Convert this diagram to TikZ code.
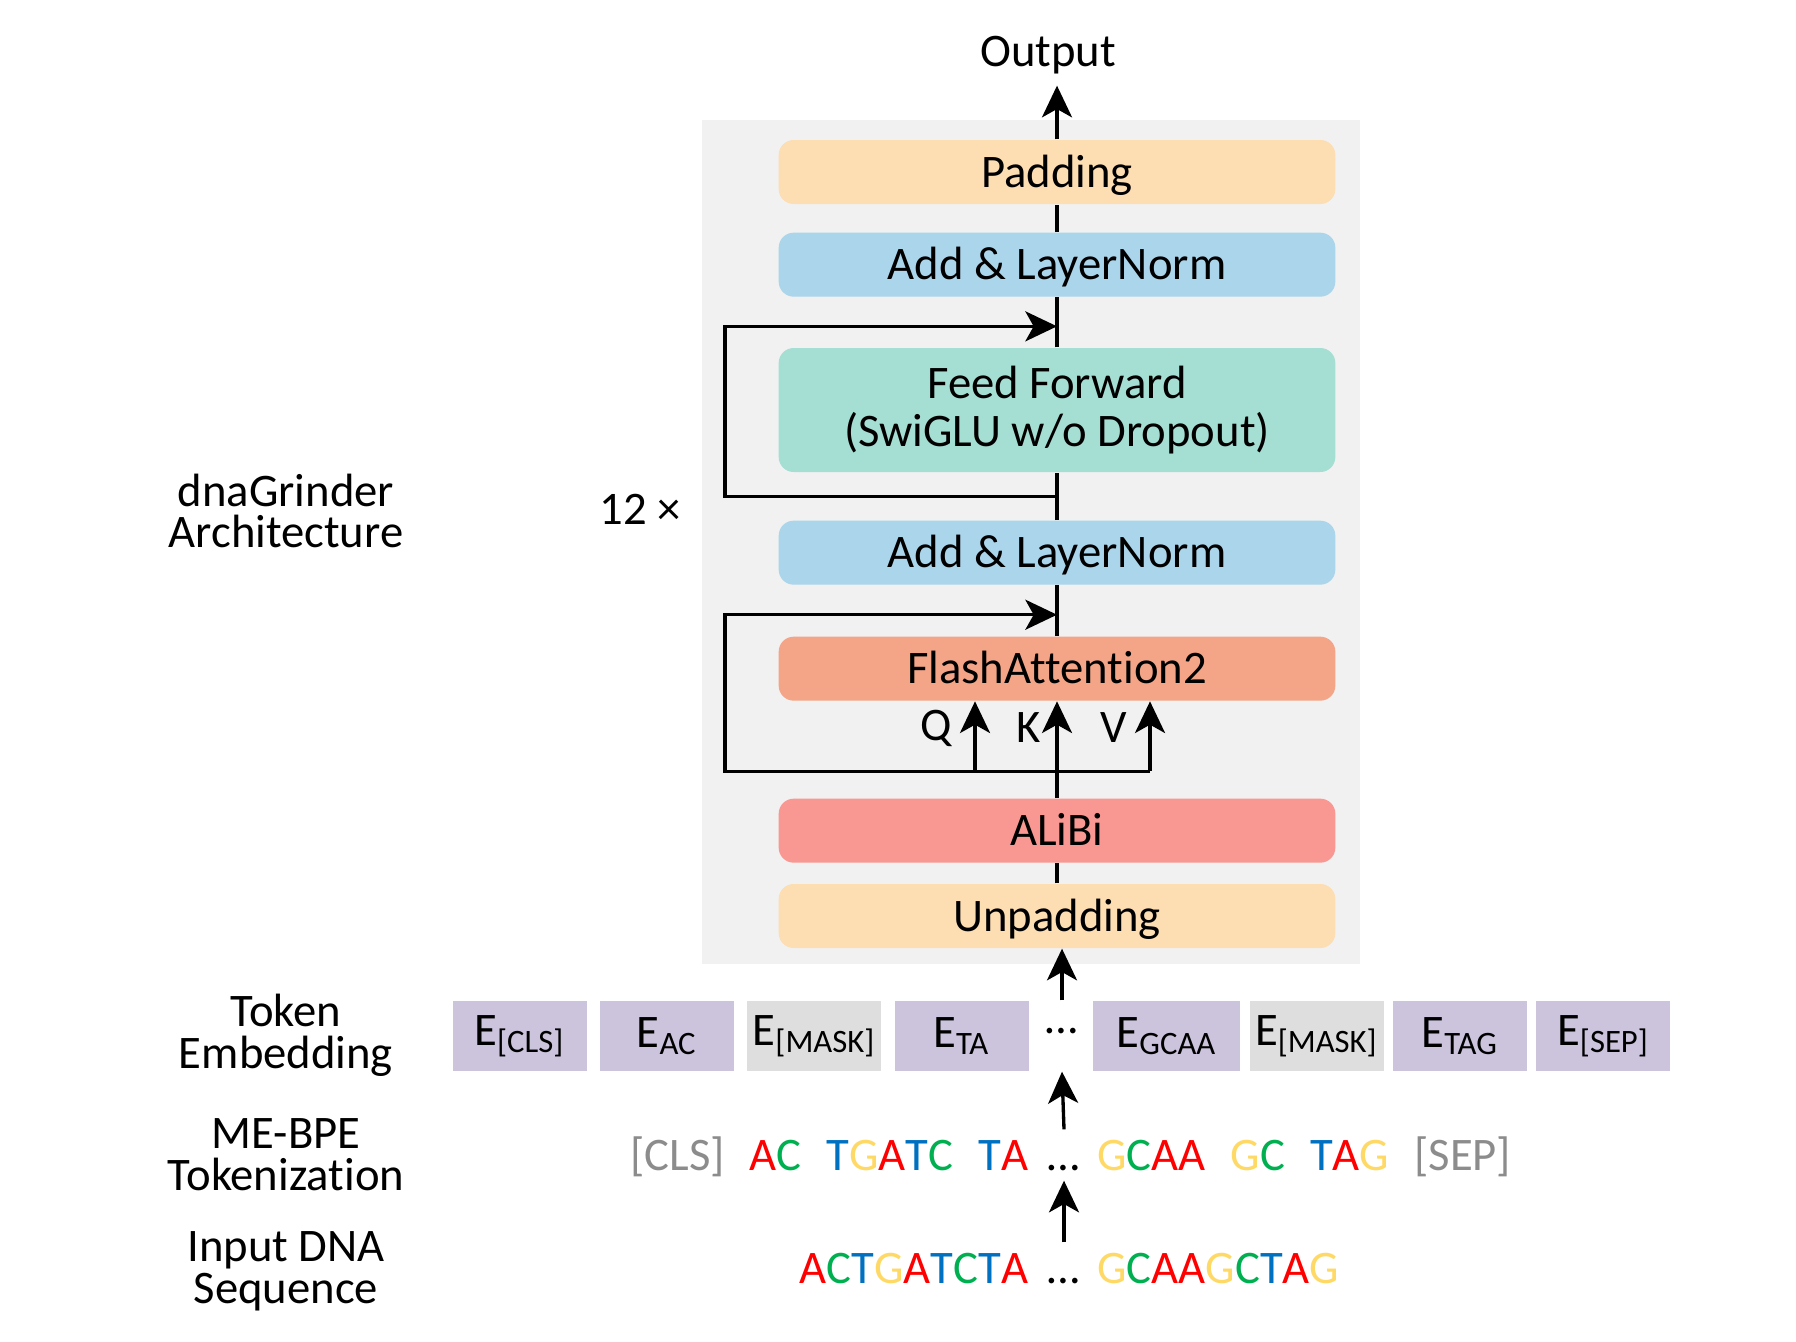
\documentclass[tikz,border=0pt]{standalone}
\usepackage{fontspec}
\setmainfont{Carlito}[Ligatures=NoCommon]
\usetikzlibrary{arrows.meta, positioning}

\definecolor{bggray}{HTML}{F1F1F1}
\definecolor{padcol}{HTML}{FDDDB2}
\definecolor{normcol}{HTML}{AAD5EB}
\definecolor{ffcol}{HTML}{A5DED3}
\definecolor{attcol}{HTML}{F4A587}
\definecolor{alibicol}{HTML}{F99892}
\definecolor{embcol}{HTML}{CCC3DD}
\definecolor{maskcol}{HTML}{DEDEDE}
\definecolor{dnaA}{HTML}{FF0000}
\definecolor{dnaC}{HTML}{00B050}
\definecolor{dnaT}{HTML}{0070C0}
\definecolor{dnaG}{HTML}{FFD966}
\definecolor{spcol}{HTML}{8C8C8C}

\newcommand{\nucA}{\textcolor{dnaA}{A}}
\newcommand{\nucC}{\textcolor{dnaC}{C}}
\newcommand{\nucT}{\textcolor{dnaT}{T}}
\newcommand{\nucG}{\textcolor{dnaG}{G}}
\newcommand{\tsp}{\hspace{7.5pt}}

\begin{document}
\begin{tikzpicture}[x=0.3pt, y=-0.3pt, font=\fontsize{14}{12.5}\selectfont,
  layer/.style={rounded corners=4.5pt, minimum width=167pt, minimum height=19.2pt,
    inner sep=0pt, text height=9pt, text depth=0pt},
  emb/.style={fill=embcol, minimum width=40.2pt, minimum height=21pt, inner sep=0pt},
  mask/.style={emb, fill=maskcol},
  seq/.style={inner xsep=0pt, inner ysep=3pt, text height=9pt, text depth=0pt},
  lbl/.style={align=center},
  line/.style={line width=1pt},
  arr/.style={line, -{Stealth[length=9.5pt, width=9pt, inset=2.5pt]}}]

\useasboundingbox (0,0) rectangle (1796,1341);
\fill[bggray] (702,120) rectangle (1360,964);

% encoder block
\node[layer, fill=padcol] (unpad) at (1057,916) {Unpadding};
\node[layer, fill=alibicol, above=6pt of unpad] (alibi) {ALiBi};
\node[layer, fill=attcol, above=29pt of alibi] (attn) {FlashAttention2};
\node[layer, fill=normcol, above=15.2pt of attn] (norm1) {Add \& LayerNorm};
\node[layer, fill=ffcol, above=14.2pt of norm1, minimum height=37.2pt,
  text height={}, text depth={}, align=center, font=\fontsize{14}{14.5}\selectfont]
  (ff) {Feed Forward\\(SwiGLU w/o Dropout)};
\node[layer, fill=normcol, above=15pt of ff] (norm2) {Add \& LayerNorm};
\node[layer, fill=padcol, above=8.2pt of norm2] (pad) {Padding};
\node (output) at (1048,55) {Output};
\node (reps) at (640,509) {12 ×};

% attention with residual
\draw[line] (unpad.north) -- (alibi.south);
\path (attn.south) ++(0,70) coordinate (kbr);
\path (kbr) ++(-82,0) coordinate (qbr) ++(175,0) coordinate (vbr);
\draw[line] (alibi.north) -- (kbr);
\draw[arr] (qbr) -- (qbr |- attn.south) node[pos=.62, left=3pt] {Q};
\draw[arr] (kbr) -- (attn.south) node[pos=.62, left=1pt] {K};
\draw[arr] (vbr) -- (vbr |- attn.south) node[pos=.62, left=3pt] {V};
\draw[line] (attn.north) -- coordinate[pos=.42] (attin) (norm1.south);
\draw[arr] (vbr) -- (kbr) -- ++(-332,0) |- (attin);

% feed forward with residual
\draw[line] (norm1.north) -- coordinate (ffbr) (ff.south);
\draw[line] (ff.north) -- coordinate[pos=.42] (ffin) (norm2.south);
\draw[arr] (ffbr) -- ++(-332,0) |- (ffin);
\draw[line] (norm2.north) -- (pad.south);
\draw[arr] (pad.north) -- (pad.north |- output.south);

% token embeddings
\node[inner sep=0pt, minimum width=12pt, minimum height=21pt, text depth=3pt] (edots) at (1062,1036) {\ldots};
\node[emb, left=3.6pt of edots] (eta) {E\textsubscript{TA}};
\node[mask, left=3.6pt of eta] (emaskl) {E\textsubscript{[MASK]}};
\node[emb, left=3.6pt of emaskl] (eac) {E\textsubscript{AC}};
\node[emb, left=3.6pt of eac] (ecls) {E\textsubscript{[CLS]}};
\node[emb, right=3pt of edots, minimum width=44.1pt] (egcaa) {E\textsubscript{GCAA}};
\node[mask, right=2.4pt of egcaa] (emaskr) {E\textsubscript{[MASK]}};
\node[emb, right=2.4pt of emaskr] (etag) {E\textsubscript{TAG}};
\node[emb, right=2.4pt of etag] (esep) {E\textsubscript{[SEP]}};

% tokens and input sequence
\node[seq] (tokdots) at (1064,1155) {\ldots};
\node[seq, left=5.5pt of tokdots] (tokl)
  {\textcolor{spcol}{[CLS]}\tsp\nucA\nucC\tsp\nucT\nucG\nucA\nucT\nucC\tsp\nucT\nucA};
\node[seq, right=4.8pt of tokdots] (tokr)
  {\nucG\nucC\nucA\nucA\tsp\nucG\nucC\tsp\nucT\nucA\nucG\tsp\textcolor{spcol}{[SEP]}};
\node[seq] (dnadots) at (1064,1268) {\ldots};
\node[seq, left=5.5pt of dnadots] (dnal) {\nucA\nucC\nucT\nucG\nucA\nucT\nucC\nucT\nucA};
\node[seq, right=4.8pt of dnadots] (dnar) {\nucG\nucC\nucA\nucA\nucG\nucC\nucT\nucA\nucG};

\draw[arr] (dnadots.north) -- (tokdots.south);
\draw[arr] (tokdots.north) -- (edots.south);
\draw[arr] (edots.north) -- (edots.north |- unpad.south);

% row labels
\node[lbl] (archlbl) at (286,511) {dnaGrinder\\Architecture};
\node[lbl] (emblbl) at (286,1035) {Token\\Embedding};
\node[lbl] (toklbl) at (286,1155) {ME-BPE\\Tokenization};
\node[lbl] (dnalbl) at (286,1271) {Input DNA\\Sequence};
\end{tikzpicture}
\end{document}
